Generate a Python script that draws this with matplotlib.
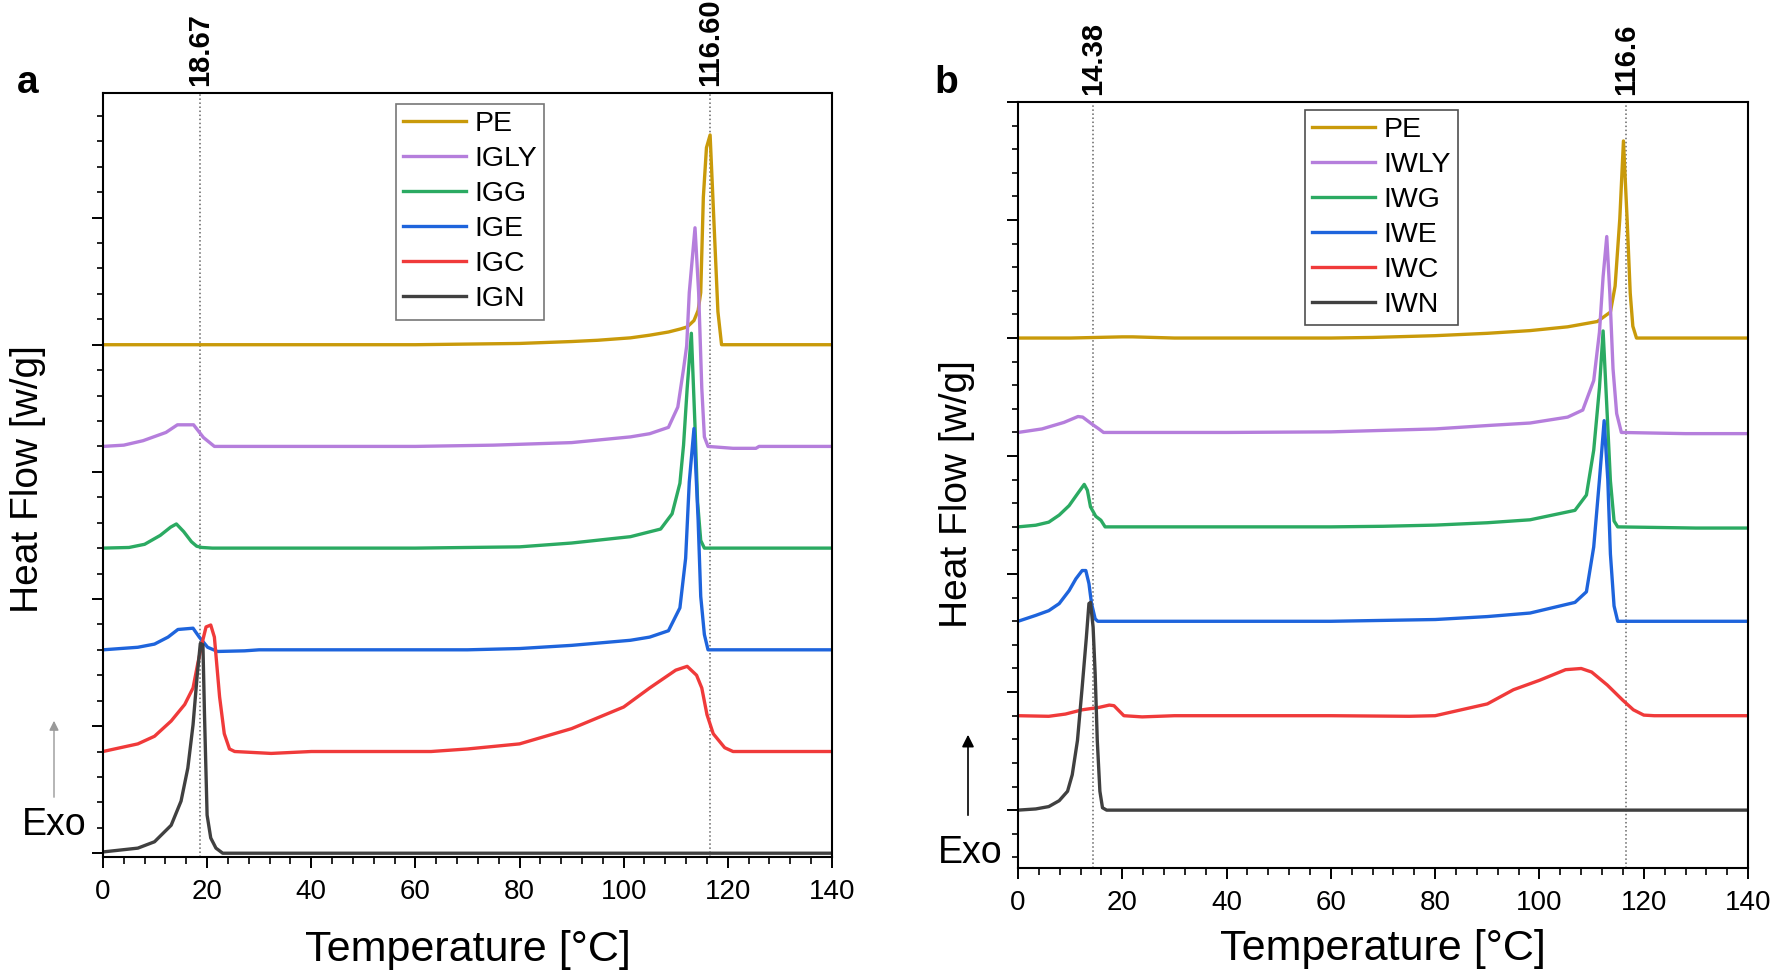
import matplotlib
matplotlib.use("Agg")
import matplotlib.pyplot as plt
from matplotlib.ticker import MultipleLocator
from matplotlib.patches import FancyArrowPatch

plt.rcParams['font.family'] = ['Liberation Sans', 'DejaVu Sans']

# ---------------- panel a : signal above each curve's own baseline ----------------
pe_a_x = [0, 20, 40, 60, 70, 80, 90, 95, 101.3, 105, 108.6, 111, 112.2, 113.5, 114.3, 114.8,
          115.3, 115.9, 116.6, 117.3, 118.1, 118.8, 120, 140]
pe_a_y = [0, 0, 0, 0, 0.005, 0.01, 0.025, 0.035, 0.054, 0.075, 0.1, 0.125, 0.14, 0.19, 0.27, 0.41,
          1.16, 1.55, 1.65, 1.0, 0.26, 0, 0, 0]
igly_x = [0, 4, 7.7, 12.1, 14.3, 17.4, 19.3, 21.4, 40, 60, 75, 90, 101.3, 105, 108.6, 110.4,
          111.5, 112.1, 112.6, 113.7, 114.4, 115.0, 115.5, 116.2, 121, 125.4, 126, 140]
igly_y = [0, 0.01, 0.045, 0.11, 0.17, 0.17, 0.07, 0, 0, 0, 0.01, 0.03, 0.075, 0.1, 0.15, 0.31,
          0.61, 0.79, 1.21, 1.72, 1.21, 0.46, 0.075, 0, -0.015, -0.015, 0, 0]
igg_x = [0, 5, 8, 11, 13, 14.1, 15.5, 17, 18, 19, 21, 40, 60, 70, 80, 90, 101.3, 107.1, 109.3,
         110.8, 111.5, 112.2, 113.0, 113.7, 114.2, 114.8, 115.5, 140]
igg_y = [0, 0.005, 0.03, 0.1, 0.165, 0.19, 0.13, 0.05, 0.015, 0.005, 0, 0, 0, 0.005, 0.01, 0.04,
         0.09, 0.15, 0.27, 0.51, 0.81, 1.26, 1.69, 0.96, 0.36, 0.06, 0, 0]
ige_x = [0, 6.7, 9.9, 12.5, 14.4, 17.3, 18.5, 20.1, 22, 27.2, 30, 50, 70, 80, 90, 101.3, 105,
         108.6, 110.8, 111.9, 112.6, 113.5, 114.3, 114.8, 115.5, 116.2, 140]
ige_y = [0, 0.02, 0.045, 0.1, 0.16, 0.17, 0.1, 0.02, -0.013, -0.008, 0, 0, 0, 0.01, 0.035, 0.075,
         0.1, 0.15, 0.33, 0.72, 1.32, 1.74, 1.02, 0.42, 0.12, 0, 0]
igc_x = [0, 6.7, 9.9, 13.1, 15.7, 17.3, 18.2, 19.2, 19.8, 20.7, 21.4, 22.4, 23.3, 24.3, 25.3,
         32.3, 40, 50, 63, 70, 80, 90, 100, 105, 110, 112.2, 114, 115, 116, 117.2, 119.4, 121, 140]
igc_y = [0, 0.06, 0.12, 0.24, 0.37, 0.5, 0.69, 0.88, 0.98, 0.995, 0.9, 0.43, 0.14, 0.02, 0,
         -0.015, 0, 0, 0, 0.02, 0.06, 0.18, 0.35, 0.5, 0.64, 0.67, 0.6, 0.5, 0.29, 0.14, 0.03, 0, 0]
ign_x = [0, 6.7, 9.9, 13.1, 15.0, 16.3, 17.3, 18.1, 18.7, 19.2, 19.5, 20.0, 20.7, 21.7, 23.0, 140]
ign_y = [0.01, 0.04, 0.09, 0.22, 0.41, 0.67, 1.01, 1.4, 1.65, 1.64, 1.09, 0.3, 0.12, 0.04, 0, 0]

# ---------------- panel b ----------------
pe_b_x = [0, 10, 20, 22, 30, 50, 60, 68, 80, 90, 98.2, 105.4, 111.1, 113.6, 114.5, 115.4, 116.1,
          116.8, 117.4, 117.9, 118.6, 140]
pe_b_y = [0, 0, 0.01, 0.01, 0, 0, 0, 0.005, 0.02, 0.04, 0.063, 0.095, 0.14, 0.22, 0.44, 1.01, 1.67,
          1.01, 0.38, 0.1, 0, 0]
iwly_x = [0, 4.6, 8.8, 11.5, 12.4, 14.2, 15.5, 16.4, 40, 60, 80, 90.5, 98.2, 105.4, 108.3, 110.4,
          111.5, 112.2, 112.9, 113.5, 114.1, 114.8, 115.7, 128, 140]
iwly_y = [0, 0.03, 0.085, 0.135, 0.13, 0.07, 0.03, 0, 0, 0.005, 0.03, 0.06, 0.08, 0.13, 0.19, 0.44,
          0.85, 1.32, 1.66, 1.17, 0.54, 0.16, 0, -0.01, -0.01]
iwg_x = [0, 3.4, 5.9, 7.9, 9.8, 11.4, 12.7, 13.3, 13.9, 14.9, 15.9, 16.7, 40, 60, 70, 80, 90,
         98.2, 106.8, 109, 110.4, 111.5, 112.2, 112.9, 113.6, 114.3, 115, 130, 140]
iwg_y = [0, 0.014, 0.04, 0.1, 0.18, 0.28, 0.36, 0.31, 0.17, 0.09, 0.056, 0, 0, 0, 0.005, 0.015,
         0.035, 0.06, 0.14, 0.27, 0.65, 1.18, 1.66, 1.03, 0.39, 0.05, 0, -0.01, -0.01]
iwe_x = [0, 3.4, 5.9, 7.9, 9.8, 11.1, 12.3, 13.0, 13.6, 14.1, 14.8, 15.3, 40, 60, 80, 90, 98.2,
         106.8, 109, 110.4, 111.5, 112.4, 113.1, 113.6, 114.3, 115, 140]
iwe_y = [0, 0.05, 0.09, 0.15, 0.26, 0.36, 0.43, 0.43, 0.32, 0.15, 0.02, 0, 0, 0, 0.015, 0.04, 0.07,
         0.16, 0.25, 0.63, 1.2, 1.7, 1.2, 0.57, 0.13, 0, 0]
iwc_x = [0, 5.9, 9.1, 12.3, 15.5, 17.5, 18.4, 19.4, 20.3, 23.8, 30, 60, 75, 80, 85, 90, 95, 100,
         105, 108, 110, 113, 116, 118, 120, 122, 140]
iwc_y = [0, -0.005, 0.014, 0.05, 0.07, 0.09, 0.085, 0.04, 0, -0.01, 0, 0, -0.005, 0, 0.05, 0.1,
         0.22, 0.3, 0.39, 0.4, 0.37, 0.26, 0.13, 0.05, 0.005, 0, 0]
iwn_x = [0, 3.4, 5.9, 7.9, 9.5, 10.4, 11.4, 12.3, 13.1, 13.6, 13.9, 14.4, 14.8, 15.2, 15.7, 16.2,
         17, 140]
iwn_y = [0, 0.01, 0.03, 0.08, 0.16, 0.3, 0.59, 1.04, 1.46, 1.75, 1.76, 1.55, 1.15, 0.59, 0.16,
         0.02, 0, 0]

labels_a = ['PE', 'IGLY', 'IGG', 'IGE', 'IGC', 'IGN']
labels_b = ['PE', 'IWLY', 'IWG', 'IWE', 'IWC', 'IWN']
offsets = [4.0, 3.2, 2.4, 1.6, 0.8, 0.0]
peaks_a = [18.67, 116.60]
peaks_b = [14.38, 116.6]
peak_text_a = ['18.67', '116.60']
peak_text_b = ['14.38', '116.6']

colors = ['#C99A0A', '#B57EDC', '#2BAA62', '#1E64DC', '#F03A3A', '#404040']

fig = plt.figure(figsize=(17.72, 9.76), dpi=100)
ax_a = fig.add_axes([0.0581, 0.1219, 0.4114, 0.7828])
ax_b = fig.add_axes([0.5745, 0.1107, 0.4120, 0.7848])


def draw(ax, xs, ys, labels, peaks, peak_text, ylim, leg_anchor, leg_edge, xpad):
    lines = []
    for x, y, lab, off, c in zip(xs, ys, labels, offsets, colors):
        ln, = ax.plot(x, [v + off for v in y], color=c, lw=2.4, label=lab)
        lines.append(ln)
    for p, t in zip(peaks, peak_text):
        ax.axvline(p, color='#666666', ls=':', lw=1.1, zorder=0)
        ax.annotate(t, xy=(p, 1.0), xycoords=('data', 'axes fraction'),
                    xytext=(0, 5), textcoords='offset points', rotation=90,
                    ha='center', va='bottom', fontsize=21, fontweight='bold')
    ax.set_xlim(0, 140)
    ax.set_ylim(*ylim)
    ax.xaxis.set_major_locator(MultipleLocator(20))
    ax.xaxis.set_minor_locator(MultipleLocator(4))
    ax.yaxis.set_major_locator(MultipleLocator(1))
    ax.yaxis.set_minor_locator(MultipleLocator(0.2))
    ax.tick_params(axis='x', which='major', direction='out', length=8, width=1.4,
                   labelsize=20, pad=8)
    ax.tick_params(axis='x', which='minor', direction='out', length=5, width=1.2)
    ax.tick_params(axis='y', which='major', direction='out', length=8, width=1.4, labelleft=False)
    ax.tick_params(axis='y', which='minor', direction='out', length=4, width=1.2)
    for s in ax.spines.values():
        s.set_linewidth(1.5)
    ax.set_xlabel('Temperature [°C]', fontsize=31, labelpad=xpad)
    leg = ax.legend(handles=lines, loc='upper left', bbox_to_anchor=leg_anchor, fontsize=20.5,
                    frameon=True, fancybox=False, edgecolor=leg_edge, handlelength=2.2,
                    handletextpad=0.3, labelspacing=0.32, borderpad=0.25, borderaxespad=0)
    leg.get_frame().set_linewidth(1.2)


draw(ax_a, [pe_a_x, igly_x, igg_x, ige_x, igc_x, ign_x],
     [pe_a_y, igly_y, igg_y, ige_y, igc_y, ign_y], labels_a, peaks_a, peak_text_a,
     (-0.03, 5.98), (0.402, 0.986), '#555555', 18)
draw(ax_b, [pe_b_x, iwly_x, iwg_x, iwe_x, iwc_x, iwn_x],
     [pe_b_y, iwly_y, iwg_y, iwe_y, iwc_y, iwn_y], labels_b, peaks_b, peak_text_b,
     (-0.49, 6.0), (0.393, 0.99), '#222222', 9)

W, H = 1772.0, 976.0

fig.text(17 / W, 1 - 93 / H, 'a', fontsize=28, fontweight='bold', ha='left', va='baseline')
fig.text(934 / W, 1 - 93 / H, 'b', fontsize=28, fontweight='bold', ha='left', va='baseline')

fig.text(28 / W, 1 - 479 / H, 'Heat Flow [w/g]', rotation=90, fontsize=28, ha='center', va='center')
fig.text(957 / W, 1 - 494 / H, 'Heat Flow [w/g]', rotation=90, fontsize=28, ha='center', va='center')

fig.text(54 / W, 1 - 825 / H, 'Exo', fontsize=27, ha='center', va='center')
fig.text(970 / W, 1 - 853 / H, 'Exo', fontsize=27, ha='center', va='center')

fig.add_artist(FancyArrowPatch((54 / W, 1 - 800 / H), (54 / W, 1 - 718 / H),
                               transform=fig.transFigure, arrowstyle='-|>', mutation_scale=14,
                               color='#999999', lw=1.0))
fig.add_artist(FancyArrowPatch((968 / W, 1 - 818 / H), (968 / W, 1 - 732 / H),
                               transform=fig.transFigure, arrowstyle='-|>', mutation_scale=18,
                               color='black', lw=1.2))

fig.savefig('out.png', dpi=100)
